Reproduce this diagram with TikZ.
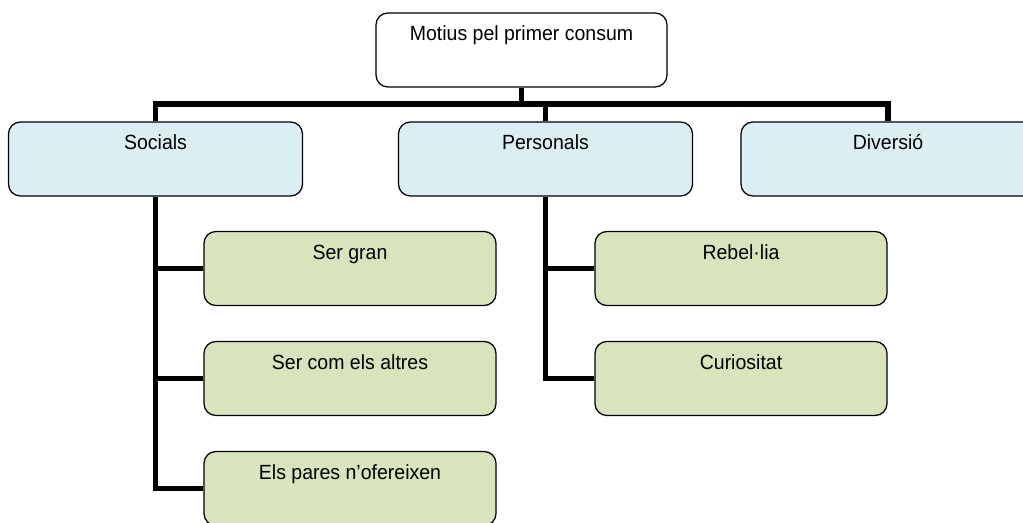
\documentclass[tikz,border=0pt]{standalone}
\usepackage{fontspec}
\setmainfont{Liberation Sans}[FakeStretch=0.95]
\definecolor{paleblue}{RGB}{219,238,243}
\definecolor{palegreen}{RGB}{215,228,188}
\usetikzlibrary{calc}

\begin{document}
\begin{tikzpicture}[
  x=0.025cm, y=-0.025cm,
  box/.style={rectangle, rounded corners=0.3cm, draw=black, line width=0.9pt,
              minimum width=7.35cm, minimum height=1.85cm, inner ysep=0pt,
              text height=0.7cm, text depth=1.15cm, align=center,
              font=\fontsize{14.6}{17}\selectfont},
  topbox/.style={box, fill=white, minimum width=7.275cm},
  catbox/.style={box, fill=paleblue},
  subbox/.style={box, fill=palegreen, minimum width=7.3cm},
  link/.style={line width=3.6pt}
]
  \useasboundingbox (0,0) rectangle (1023,523);

  % Main boxes
  \node[topbox] (motius)    at (521.5, 50)  {Motius pel primer consum};
  \node[catbox] (socials)   at (155.5, 159) {Socials};
  \node[catbox] (personals) at (545.5, 159) {Personals};
  \node[catbox] (diversio)  at (888, 159)   {Diversió};

  % Sub boxes
  \node[subbox] (sergran)    at (350, 268.5) {Ser gran};
  \node[subbox] (sercom)     at (350, 378.5) {Ser com els altres};
  \node[subbox] (pares)      at (350, 488.5) {Els pares n’ofereixen};
  \node[subbox] (rebellia)   at (741, 268.5) {Rebel·lia};
  \node[subbox] (curiositat) at (741, 378.5) {Curiositat};

  % Top bus
  \coordinate (bus) at (0, 104);
  \draw[link] (motius.south) -- (motius.south |- bus);
  \draw[link] (socials.north) -- (socials.north |- bus)
    -- (diversio.north |- bus) -- (diversio.north);
  \draw[link] (personals.north) -- (personals.north |- bus);

  % Branches
  \draw[link] (socials.south) |- (pares.west);
  \draw[link] (socials.south |- sergran.west) -- (sergran.west);
  \draw[link] (socials.south |- sercom.west) -- (sercom.west);
  \draw[link] (personals.south) |- (curiositat.west);
  \draw[link] (personals.south |- rebellia.west) -- (rebellia.west);
\end{tikzpicture}
\end{document}
